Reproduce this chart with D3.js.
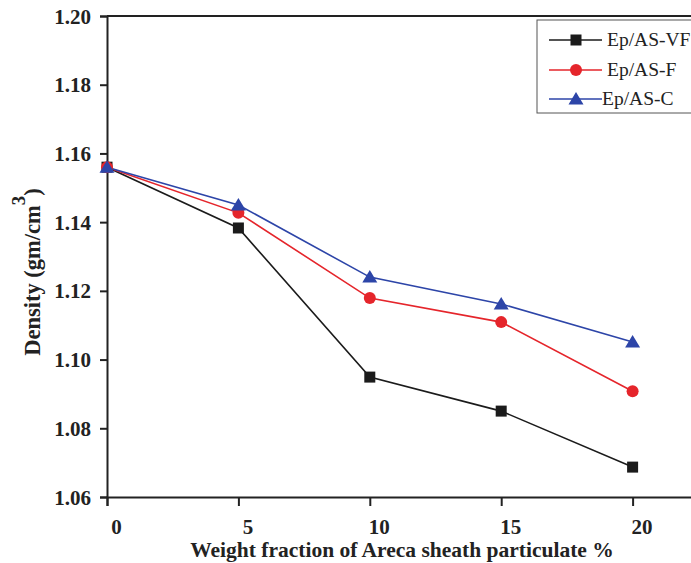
<!DOCTYPE html>
<html>
<head>
<meta charset="utf-8">
<script src="https://cdn.jsdelivr.net/npm/d3@7"></script>
<style>
  body { margin: 0; background: #fff; }
  svg { display: block; font-family: "Liberation Serif", "Times New Roman", serif; }
</style>
</head>
<body>
<div id="chart"></div>
<script>
// data
var loadings = [0, 5, 10, 15, 20];
var densityVF = [1.156, 1.1383, 1.0949, 1.085, 1.0687];
var densityF  = [1.156, 1.1427, 1.1179, 1.1109, 1.0908];
var densityC  = [1.156, 1.145, 1.124, 1.1162, 1.1051];
var yTicks = [1.06, 1.08, 1.10, 1.12, 1.14, 1.16, 1.18, 1.20];
var xTicks = [0, 5, 10, 15, 20];

var series = [
  { name: "Ep/AS-VF", values: densityVF, color: "#1b1b1b", shape: "square" },
  { name: "Ep/AS-F",  values: densityF,  color: "#e5252b", shape: "circle" },
  { name: "Ep/AS-C",  values: densityC,  color: "#2d45a8", shape: "triangle" }
];

var width = 691, height = 563;
var plotLeft = 107, plotTop = 16, plotBottom = 497;

var svg = d3.select("#chart").append("svg")
  .attr("width", width)
  .attr("height", height);

var x = d3.scaleLinear().domain([0, 22.5]).range([plotLeft, plotLeft + 22.5 * 26.28]);
var y = d3.scaleLinear().domain([1.06, 1.20]).range([plotBottom, plotTop]);

function marker(sel, shape, color) {
  if (shape == "square") {
    sel.append("rect").attr("x", -5.5).attr("y", -5.5).attr("width", 11).attr("height", 11).attr("fill", color);
  } else if (shape == "circle") {
    sel.append("circle").attr("r", 6).attr("fill", color);
  } else {
    sel.append("path").attr("d", "M0,-7L7.5,5.5L-7.5,5.5Z").attr("fill", color);
  }
}

// frame top line
svg.append("line")
  .attr("x1", plotLeft).attr("x2", width + 10)
  .attr("y1", plotTop).attr("y2", plotTop)
  .attr("stroke", "#222").attr("stroke-width", 2);

// y axis
var yAxis = svg.append("g")
  .attr("transform", `translate(${plotLeft},0)`)
  .call(d3.axisLeft(y).tickValues(yTicks).tickFormat(d3.format(".2f")).tickSizeOuter(0).tickSize(7).tickPadding(9));
yAxis.select(".domain").attr("stroke", "#222").attr("stroke-width", 2);
yAxis.selectAll(".tick line").attr("stroke", "#222").attr("stroke-width", 2);
yAxis.selectAll(".tick text")
  .attr("font-family", "Liberation Serif, serif")
  .attr("font-size", 21).attr("font-weight", "bold").attr("fill", "#222")
  .attr("dy", "0.34em");

// x axis
var xAxis = svg.append("g")
  .attr("transform", `translate(0,${plotBottom})`)
  .call(d3.axisBottom(x).tickValues(xTicks).tickSizeOuter(0).tickSize(9).tickPadding(13));
xAxis.select(".domain").attr("stroke", "#222").attr("stroke-width", 2);
xAxis.selectAll(".tick line").attr("stroke", "#222").attr("stroke-width", 2);
xAxis.selectAll(".tick text")
  .attr("font-family", "Liberation Serif, serif")
  .attr("font-size", 21).attr("font-weight", "bold").attr("fill", "#222")
  .attr("dx", 9);

// axis titles
svg.append("text")
  .attr("x", 402).attr("y", 557)
  .attr("text-anchor", "middle")
  .attr("font-size", 21.5).attr("font-weight", "bold").attr("fill", "#222")
  .text("Weight fraction of Areca sheath particulate %");

var yt = svg.append("text")
  .attr("transform", "translate(40,272) rotate(-90)")
  .attr("text-anchor", "middle")
  .attr("font-size", 22.5).attr("font-weight", "bold").attr("fill", "#222");
yt.append("tspan").text("Density (gm/cm");
yt.append("tspan").attr("dy", -15).attr("font-size", 19).text("3");
yt.append("tspan").attr("dy", 15).text(")");

// lines and markers
var line = d3.line()
  .x((d, i) => x(loadings[i]))
  .y(d => y(d));

series.forEach(function(s) {
  svg.append("path")
    .datum(s.values)
    .attr("fill", "none")
    .attr("stroke", s.color)
    .attr("stroke-width", 1.6)
    .attr("d", line);
});

series.forEach(function(s) {
  svg.append("g").selectAll("g")
    .data(s.values)
    .enter()
    .append("g")
      .attr("transform", (d, i) => `translate(${x(loadings[i])},${y(d)})`)
      .each(function() { marker(d3.select(this), s.shape, s.color); });
});

// legend
var legend = svg.append("g");
legend.append("rect")
  .attr("x", 537).attr("y", 20)
  .attr("width", 170).attr("height", 93)
  .attr("fill", "#fff").attr("stroke", "#555").attr("stroke-width", 1);

var rowY = [40, 70, 99];
var textX = [607, 607, 602];
series.forEach(function(s, i) {
  var row = legend.append("g").attr("transform", `translate(0,${rowY[i]})`);
  row.append("line")
    .attr("x1", 549).attr("x2", 602)
    .attr("stroke", s.color).attr("stroke-width", 1.6);
  marker(row.append("g").attr("transform", "translate(576,0)"), s.shape, s.color);
  row.append("text")
    .attr("x", textX[i]).attr("y", 6)
    .attr("font-size", 19.5).attr("fill", "#222")
    .text(s.name);
});
</script>
</body>
</html>
